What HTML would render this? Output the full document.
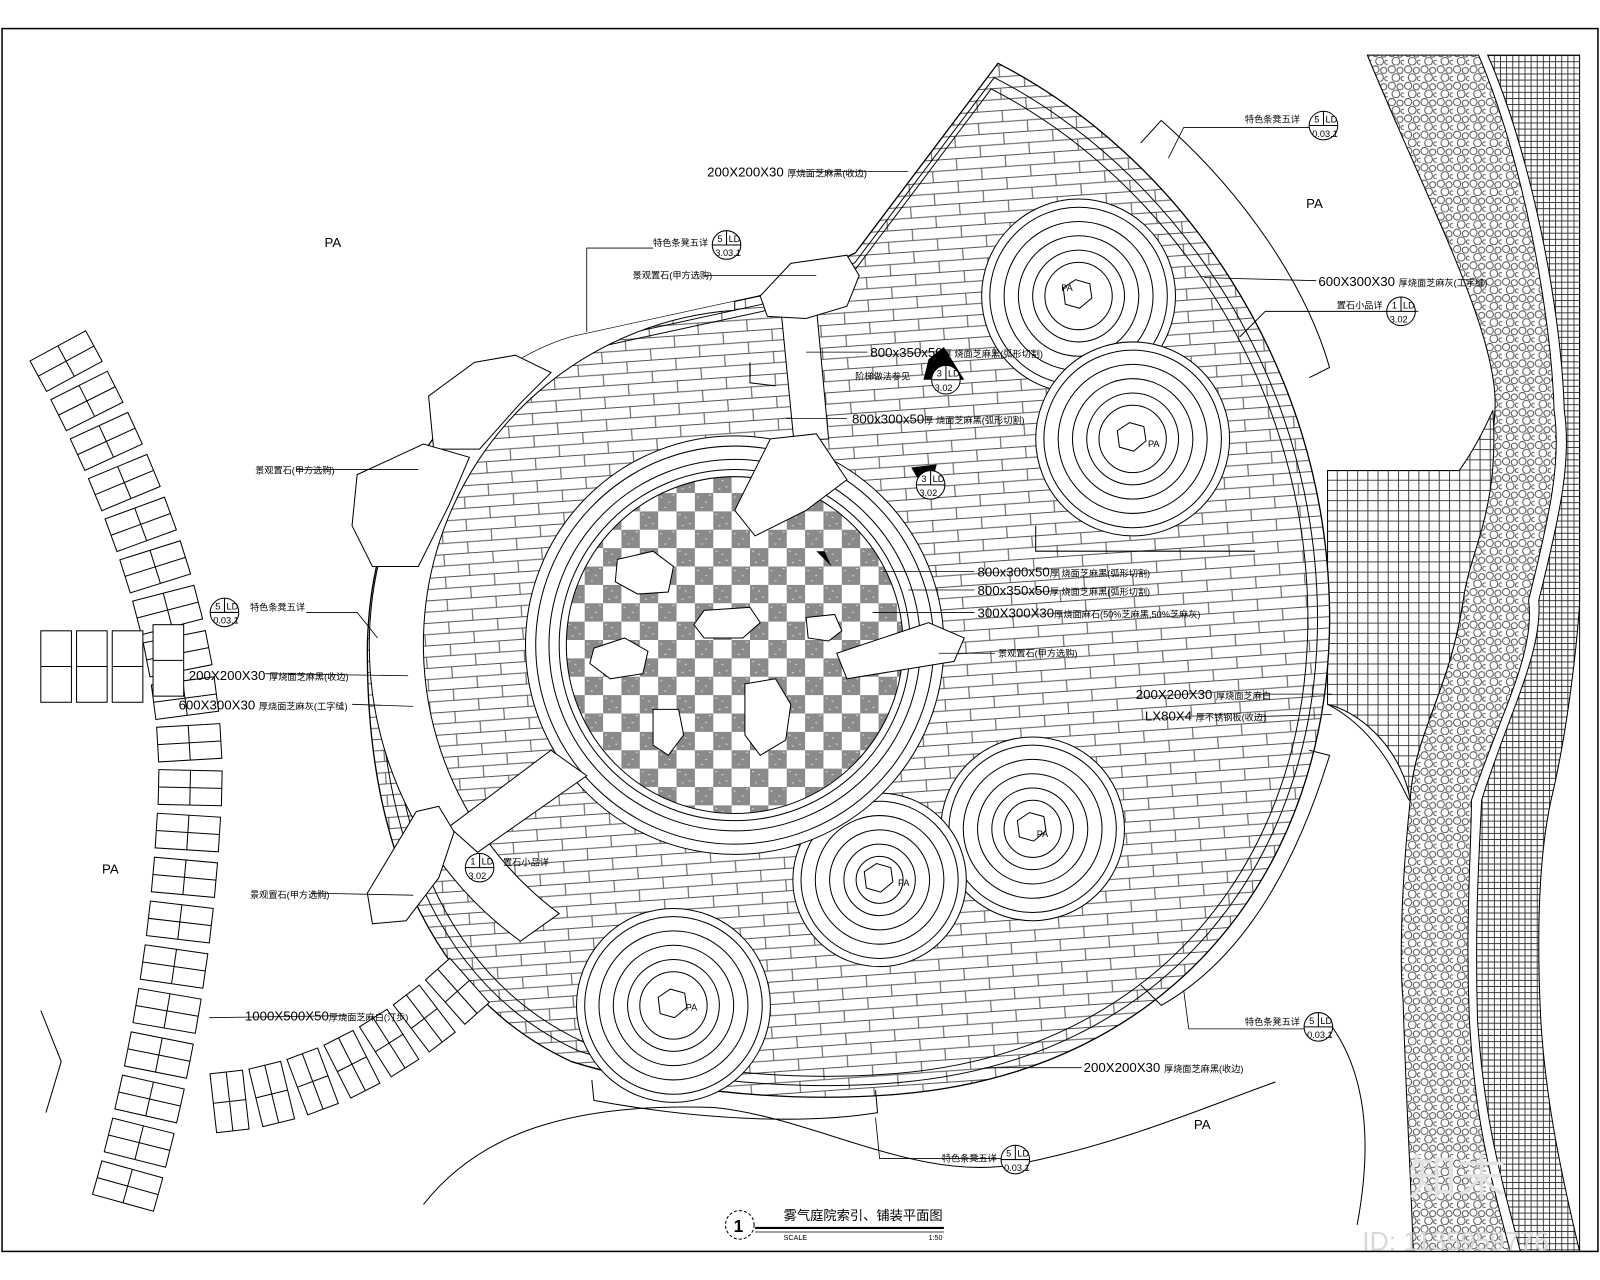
<!DOCTYPE html>
<html><head><meta charset="utf-8">
<style>
html,body{margin:0;padding:0;background:#fff;}
svg{display:block;}
text{font-family:"Liberation Sans","Noto Sans CJK SC",sans-serif;fill:#000;}
.s{font-size:9px;}
.m{font-size:13px;}
</style></head>
<body>
<svg id="sv" width="1600" height="1280" viewBox="0 0 1568 1254" preserveAspectRatio="none" xmlns="http://www.w3.org/2000/svg">
<defs>
<pattern id="brick" width="48" height="22" patternUnits="userSpaceOnUse" patternTransform="rotate(-4)">
<rect width="48" height="22" fill="#fff"/>
<path d="M0,0.5H48M0,11.5H48M12,0V11M36,11V22" stroke="#555" stroke-width="1" fill="none"/>
</pattern>
<pattern id="chk" width="36" height="36" patternUnits="userSpaceOnUse" x="555" y="465">
<rect width="36" height="36" fill="#fff"/>
<rect width="18" height="18" fill="#8a8a8a"/><rect x="18" y="18" width="18" height="18" fill="#8a8a8a"/>
<path d="M2,3h2M8,6h2M12,12h2M5,14h2M20,22h2M28,27h2M24,32h2M32,20h2" stroke="#ddd"/>
</pattern>
<pattern id="grid" width="10" height="10" patternUnits="userSpaceOnUse">
<rect width="10" height="10" fill="#fff"/><path d="M0,0.5H10M0.5,0V10" stroke="#444" stroke-width="1"/>
</pattern>
<pattern id="fgrid" width="6" height="6" patternUnits="userSpaceOnUse">
<rect width="6" height="6" fill="#fff"/><path d="M0,0.5H6M0.5,0V6" stroke="#333" stroke-width="0.9"/>
</pattern>
<pattern id="peb" width="16" height="16" patternUnits="userSpaceOnUse">
<rect width="16" height="16" fill="#fff"/>
<circle cx="4" cy="4" r="3.5" fill="none" stroke="#444" stroke-width="0.9"/>
<circle cx="12" cy="5" r="3" fill="none" stroke="#444" stroke-width="0.9"/>
<circle cx="8" cy="12" r="3.8" fill="none" stroke="#444" stroke-width="0.9"/>
<circle cx="15" cy="13" r="2" fill="none" stroke="#444" stroke-width="0.9"/>
</pattern>
<clipPath id="leafclip"><path id="lp" d="M978,62 C1150,150 1300,350 1303,600 C1305,850 1150,1050 880,1072 C760,1082 640,1065 560,1040 C430,980 360,840 360,640 C360,470 460,360 560,330 L744,290 L838,248 Z"/></clipPath>
</defs>
<rect width="1568" height="1254" fill="#fff"/>
<rect x="2" y="28" width="1564" height="1198" fill="none" stroke="#000" stroke-width="1.5"/>

<path d="M1340,54 C1400,200 1470,330 1465,402 C1460,500 1440,540 1434,588 C1420,680 1385,720 1382,784 C1372,880 1372,950 1375,980 C1378,1080 1382,1140 1385,1226 L1480,1226 C1460,1150 1446,1100 1440,1000 C1436,900 1442,830 1442,784 C1470,700 1505,640 1498,588 C1520,500 1530,450 1523,402 C1520,300 1490,150 1449,54 Z" fill="url(#peb)" stroke="#000"/>
<path d="M1458,54 C1500,150 1530,300 1533,402 C1540,450 1530,500 1508,588 C1512,640 1478,700 1452,784 C1450,830 1445,900 1448,1000 C1455,1100 1470,1150 1490,1226 L1548,1226 C1530,1150 1515,1080 1510,1000 C1505,900 1510,830 1520,784 C1540,700 1548,600 1548,588 L1548,54 Z" fill="url(#fgrid)" stroke="#000"/>
<path d="M1548,120 L1548,1226" stroke="#000"/>
<path d="M1301,461 L1430,461 C1445,440 1455,420 1463,402 C1470,500 1440,540 1434,588 C1420,680 1385,720 1382,784 C1375,740 1340,700 1301,690 Z" fill="url(#grid)" stroke="#000"/>
<path d="M1301,690 C1360,720 1380,790 1382,784" fill="none" stroke="#000"/>
<path d="M1301,1000 C1340,1050 1345,1120 1330,1200" fill="none" stroke="#000"/>
<path d="M415,1180 C470,1110 560,1080 700,1085 C800,1095 900,1160 1000,1140 C1100,1120 1180,1085 1250,1060" fill="none" stroke="#000"/>

<path d="M978,62 C1150,150 1300,350 1303,600 C1305,850 1150,1050 880,1072 C760,1082 640,1065 560,1040 C430,980 360,840 360,640 C360,470 460,360 560,330 L744,290 L838,248 Z" fill="url(#brick)" stroke="#000" stroke-width="1.3"/>
<path d="M978,62 C1150,150 1300,350 1303,600 C1305,850 1150,1050 880,1072 C760,1082 640,1065 560,1040 C430,980 360,840 360,640 C360,470 460,360 560,330 L744,290 L838,248 Z" fill="none" stroke="#000" transform="translate(830,620) scale(0.975) translate(-830,-620)"/>
<path d="M978,62 C1150,150 1300,350 1303,600 C1305,850 1150,1050 880,1072 C760,1082 640,1065 560,1040 C430,980 360,840 360,640 C360,470 460,360 560,330 L744,290 L838,248 Z" fill="none" stroke="#000" transform="translate(830,620) scale(0.955) translate(-830,-620)"/>
<g clip-path="url(#leafclip)">
<path d="M720,274 A358,358 0 0 0 510,922 L548,895 A328,328 0 0 1 720,304 Z" fill="#fff" stroke="#000"/>
</g>
<path d="M1118,140 L1138,118 C1220,190 1280,280 1303,360 L1283,370" fill="#fff" stroke="#000"/>
<path d="M1118,965 L1138,985 C1200,950 1260,880 1303,740 L1283,735" fill="none" stroke="#000"/>
<path d="M580,1058 L582,1078 C700,1100 800,1100 860,1090 L858,1068" fill="none" stroke="#000"/>

<g id="rings" fill="none" stroke="#000"></g>

<circle cx="720" cy="632" r="205" fill="#fff" stroke="#000"/>
<circle cx="720" cy="632" r="195" fill="none" stroke="#000"/>
<circle cx="720" cy="632" r="182" fill="none" stroke="#000"/>
<circle cx="720" cy="632" r="172" fill="#fff" stroke="#000"/>
<circle cx="720" cy="632" r="165" fill="url(#chk)" stroke="#000"/>
<g fill="#fff" stroke="#000">
<path d="M605,548 L640,540 L660,555 L655,580 L625,582 L603,570 Z"/>
<path d="M690,598 L735,595 L745,610 L728,625 L690,625 L680,612 Z"/>
<path d="M790,605 L818,602 L825,618 L812,628 L792,625 Z"/>
<path d="M582,635 L612,625 L635,638 L630,660 L598,665 L578,650 Z"/>
<path d="M730,670 L760,665 L775,690 L770,725 L745,740 L730,720 Z"/>
<path d="M640,695 L665,695 L670,720 L655,740 L640,730 Z"/>
</g>
<g fill="#fff" stroke="#000">
<path d="M765,300 L800,300 L812,430 L778,432 Z"/>
<path d="M755,430 L800,425 L830,470 L790,500 L740,525 L720,500 Z"/>
<path d="M440,810 L540,735 L575,760 L468,835 Z"/>
<path d="M820,640 L910,610 L945,625 L935,648 L830,665 Z"/>
</g>
<g fill="#fff" stroke="#000">
<path d="M745,290 L775,258 L830,250 L842,270 L830,300 L790,312 L752,310 Z"/>
<path d="M420,388 L465,355 L505,348 L540,365 L510,395 L470,440 L425,440 Z"/>
<path d="M350,465 L415,435 L460,448 L440,495 L410,555 L365,555 L345,515 Z"/>
<path d="M408,795 L430,790 L445,815 L430,860 L398,902 L365,905 L360,875 Z"/>
</g>
<g stroke="#000" fill="none">
<path d="M735,355 L735,375 L760,378"/>
<path d="M1015,515 L1015,540 L1230,540"/>
<path d="M1215,330 L1240,305 L1360,305"/>
</g>
<path d="M800,540 L815,555 L808,540 Z" fill="#000"/>
<path d="M910,352 L925,340 L945,372 L905,372 Z" fill="#000"/>
<path d="M893,458 L918,455 L910,487 Z" fill="#000"/>

<g id="pav" fill="#fff" stroke="#000"></g>
<path d="M40,990 L60,1040 L45,1090" fill="none" stroke="#000"/>

<g stroke="#000" fill="none" stroke-width="0.8">
<path d="M780,168 L850,168 L890,168"/>
<path d="M575,325 L575,243 L640,243"/>
<path d="M690,270 L800,270"/>
<path d="M790,345 L850,345"/>
<path d="M770,410 L830,410"/>
<path d="M290,460 L410,460"/>
<path d="M370,625 L350,600 L300,600"/>
<path d="M260,660 L400,662"/>
<path d="M345,690 L405,692"/>
<path d="M305,875 L405,877"/>
<path d="M340,995 L205,997"/>
<path d="M865,560 L955,560"/>
<path d="M890,578 L955,578"/>
<path d="M855,600 L955,600"/>
<path d="M920,640 L975,640"/>
<path d="M1180,272 L1290,275"/>
<path d="M1145,155 L1160,125 L1285,125"/>
<path d="M1305,680 L1230,680"/>
<path d="M1305,700 L1230,702"/>
<path d="M1160,970 L1165,1008 L1280,1008"/>
<path d="M965,1046 L1060,1046"/>
<path d="M858,1095 L862,1135 L985,1135"/>
<path d="M1360,305 L1390,305"/>
</g>
<g id="bubbles"></g>

<text x="318" y="242" class="m">PA</text>
<text x="1280" y="204" class="m">PA</text>
<text x="100" y="856" class="m">PA</text>
<text x="1170" y="1106" class="m">PA</text>
<text x="1040" y="285" class="s">PA</text>
<text x="1125" y="438" class="s">PA</text>
<text x="1016" y="820" class="s">PA</text>
<text x="880" y="868" class="s">PA</text>
<text x="672" y="990" class="s">PA</text>

<text x="693" y="173" class="m">200X200X30 <tspan class="s">厚烧面芝麻黑(收边)</tspan></text>
<text x="640" y="241" class="s">特色条凳五详</text>
<text x="620" y="273" class="s">景观置石(甲方选购)</text>
<text x="853" y="350" class="m">800x350x50<tspan class="s">厚 烧面芝麻黑(弧形切割)</tspan></text>
<text x="838" y="372" class="s">阶梯做法参见</text>
<text x="835" y="415" class="m">800x300x50<tspan class="s">厚 烧面芝麻黑(弧形切割)</tspan></text>
<text x="250" y="464" class="s">景观置石(甲方选购)</text>
<text x="245" y="598" class="s">特色条凳五详</text>
<text x="185" y="666" class="m">200X200X30 <tspan class="s">厚烧面芝麻黑(收边)</tspan></text>
<text x="175" y="695" class="m">600X300X30 <tspan class="s">厚烧面芝麻灰(工字缝)</tspan></text>
<text x="245" y="880" class="s">景观置石(甲方选购)</text>
<text x="493" y="848" class="s">置石小品详</text>
<text x="240" y="1000" class="m">1000X500X50<tspan class="s">厚烧面芝麻白(汀步)</tspan></text>
<text x="958" y="565" class="m">800x300x50<tspan class="s">厚 烧面芝麻黑(弧形切割)</tspan></text>
<text x="958" y="583" class="m">800x350x50<tspan class="s">厚 烧面芝麻黑(弧形切割)</tspan></text>
<text x="958" y="605" class="m">300X300X30<tspan class="s">厚烧面麻石(50%芝麻黑,50%芝麻灰)</tspan></text>
<text x="978" y="643" class="s">景观置石(甲方选购)</text>
<text x="1220" y="120" class="s">特色条凳五详</text>
<text x="1292" y="280" class="m">600X300X30 <tspan class="s">厚烧面芝麻灰(工字缝)</tspan></text>
<text x="1310" y="302" class="s">置石小品详</text>
<text x="1113" y="685" class="m">200X200X30 <tspan class="s">厚烧面芝麻白</tspan></text>
<text x="1122" y="706" class="m">LX80X4 <tspan class="s">厚不锈钢板(收边)</tspan></text>
<text x="1220" y="1004" class="s">特色条凳五详</text>
<text x="1062" y="1050" class="m">200X200X30 <tspan class="s">厚烧面芝麻黑(收边)</tspan></text>
<text x="923" y="1138" class="s">特色条凳五详</text>

<circle cx="725" cy="1200" r="14" fill="none" stroke="#000" stroke-dasharray="3,2"/>
<text x="719" y="1207" font-size="17" font-weight="bold">1</text>
<text x="768" y="1195" font-size="13">雾气庭院索引、铺装平面图</text>
<path d="M740,1203 L925,1203" stroke="#000" stroke-width="2"/>
<path d="M740,1207 L925,1207" stroke="#000" stroke-width="0.8"/>
<text x="768" y="1215" font-size="7">SCALE</text>
<text x="910" y="1215" font-size="7">1:50</text>
<text x="1380" y="1170" font-size="48" style="fill:#e2e2e2">知末</text>
<text x="1335" y="1225" font-size="26" style="fill:#d8d8d8">ID: 1135959776</text>
</svg>
<script>
var NS="http://www.w3.org/2000/svg";
function el(t,a,p){var e=document.createElementNS(NS,t);for(var k in a)e.setAttribute(k,a[k]);p.appendChild(e);return e;}
var rg=document.getElementById('rings');
[[1057,290,95],[1110,430,95],[1012,812,90],[862,862,85],[660,985,95]].forEach(function(c){
  el('circle',{cx:c[0],cy:c[1],r:c[2],fill:'#fff'},rg);
  [c[2]-8,c[2]-22,c[2]-36,c[2]-50,c[2]-62].forEach(function(r){el('circle',{cx:c[0],cy:c[1],r:r},rg);});
  el('path',{d:'M'+(c[0]-15)+','+(c[1]-8)+' l12,-8 l14,4 l2,14 l-12,10 l-14,-4 z'},rg);
});
var pv=document.getElementById('pav');
function along(d,step,w,h){
  var p=el('path',{d:d,fill:'none',stroke:'none'},pv);var L=p.getTotalLength();
  for(var s=10;s<L;s+=step){var a=p.getPointAtLength(s),b=p.getPointAtLength(Math.min(L,s+1));
    var ang=Math.atan2(b.y-a.y,b.x-a.x)*180/Math.PI;
    var g=el('g',{transform:'translate('+a.x+','+a.y+') rotate('+ang+')'},pv);
    el('rect',{x:-h/2,y:-w/2,width:h,height:w},g);
    el('line',{x1:0,y1:-w/2,x2:0,y2:w/2,stroke:'#000'},g);
    el('line',{x1:-h/2,y1:0,x2:h/2,y2:0,stroke:'#000'},g);
  }
}
along('M60,345 Q200,600 185,800 Q175,990 120,1180',44,62,34);
along('M215,1080 Q340,1070 455,965',42,58,32);
[[40,618],[75,618],[110,618],[150,612]].forEach(function(q){var g=el('g',{},pv);el('rect',{x:q[0],y:q[1],width:30,height:70},g);el('line',{x1:q[0],y1:q[1]+35,x2:q[0]+30,y2:q[1]+35,stroke:'#000'},g);});
var bb=document.getElementById('bubbles');
[[712,240,'5','3.03.1'],[927,372,'3','3.02'],[912,475,'3','3.02'],[220,600,'5','0.03.1'],[470,850,'1','3.02'],[1297,123,'5','0.03.1'],[1373,305,'1','3.02'],[1292,1006,'5','0.03.1'],[995,1136,'5','0.03.1']].forEach(function(b){
  el('circle',{cx:b[0],cy:b[1],r:14,fill:'#fff',stroke:'#000'},bb);
  el('line',{x1:b[0]-14,y1:b[1],x2:b[0]+14,y2:b[1],stroke:'#000'},bb);
  el('line',{x1:b[0],y1:b[1]-14,x2:b[0],y2:b[1],stroke:'#000'},bb);
  var t=el('text',{x:b[0]-9,y:b[1]-3,'font-size':'9'},bb);t.textContent=b[2];
  t=el('text',{x:b[0]+2,y:b[1]-3,'font-size':'9'},bb);t.textContent='LD';
  t=el('text',{x:b[0]-11,y:b[1]+11,'font-size':'9'},bb);t.textContent=b[3];
});
</script>
</body></html>
